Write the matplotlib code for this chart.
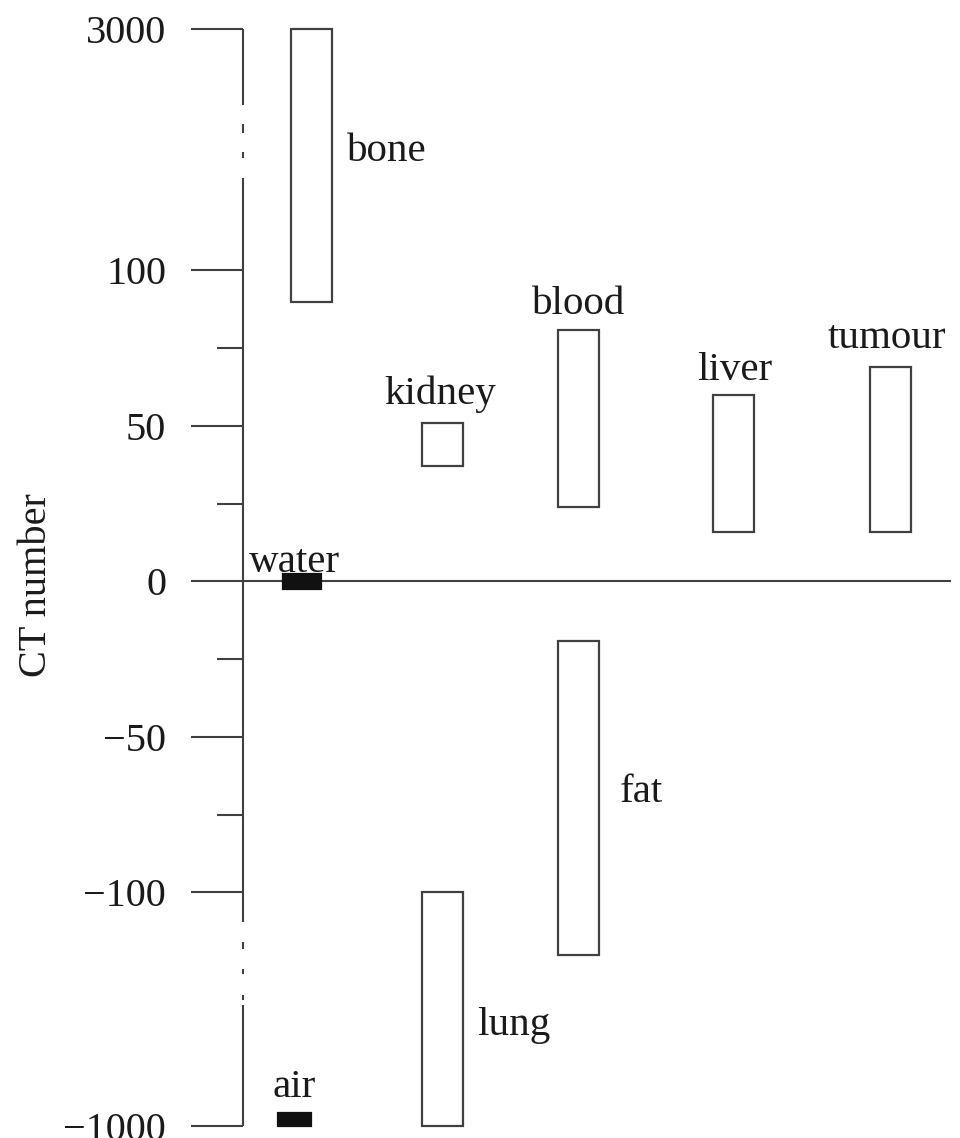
import numpy as np
import matplotlib
matplotlib.use('Agg')
import matplotlib.pyplot as plt

plt.rcParams['font.family'] = ['Liberation Serif', 'DejaVu Serif']

# CT number ranges
tissues = ['bone', 'kidney', 'blood', 'liver', 'tumour', 'fat', 'lung', 'water', 'air']
ct_low = [90, 37, 24, 16, 16, -120, -1000, -2.3, -1000]
ct_high = [3000, 51, 81, 60, 69, -19, -100, 2.3, -927]
filled = [False, False, False, False, False, False, False, True, True]

major_ticks = [-1000, -100, -50, 0, 50, 100, 3000]
major_labels = ['\u22121000', '\u2212100', '\u221250', '0', '50', '100', '3000']
minor_ticks = [-75, -25, 25, 75]

# layout: column centres / widths in axis units (1 unit = 100 px)
col_x = [0.685, 1.99, 3.355, 4.90, 6.47, 3.355, 1.99, 0.59, 0.515]
col_w = [0.41, 0.41, 0.41, 0.41, 0.41, 0.41, 0.41, 0.38, 0.33]
# label: (anchor at top/bottom, dx px, dy px, ha)
label_pos = {
    'bone': ('high', 35.5, -132, 'left'),
    'kidney': ('high', -2, 19, 'center'),
    'blood': ('high', 0, 16, 'center'),
    'liver': ('high', 1.5, 15, 'center'),
    'tumour': ('high', -3, 19, 'center'),
    'fat': ('high', 41.5, -161, 'left'),
    'lung': ('high', 35, -143, 'left'),
    'water': ('high', -7.5, 2, 'center'),
    'air': ('high', 0, 16, 'center'),
}

# broken axis: linear between the breaks, compressed outside
BRK_V = [-1000, -125, 140, 3000]
BRK_T = [-175.08, -125, 140, 177.65]
lo_slope = (BRK_T[1] - BRK_T[0]) / (BRK_V[1] - BRK_V[0])
hi_slope = (BRK_T[3] - BRK_T[2]) / (BRK_V[3] - BRK_V[2])


def fwd(v):
    v = np.asarray(v, float)
    return np.where(v < BRK_V[1], BRK_T[1] + (v - BRK_V[1]) * lo_slope,
                    np.where(v > BRK_V[2], BRK_T[2] + (v - BRK_V[2]) * hi_slope, v))


def inv(t):
    t = np.asarray(t, float)
    return np.where(t < BRK_T[1], BRK_V[1] + (t - BRK_T[1]) / lo_slope,
                    np.where(t > BRK_T[2], BRK_V[2] + (t - BRK_T[2]) / hi_slope, t))


W, H = 960, 1138
fig = plt.figure(figsize=(W / 100, H / 100), dpi=100)
ax_top, ax_bot, ax_left = 29, 1126, 243
ax = fig.add_axes([ax_left / W, 1 - ax_bot / H, (W - ax_left) / W, (ax_bot - ax_top) / H])
ax.set_yscale('function', functions=(fwd, inv))
ax.set_ylim(-1000, 3000)
ax.set_xlim(0, (W - ax_left) / 100)

line_col = '#404040'
for i, name in enumerate(tissues):
    ax.bar(col_x[i], ct_high[i] - ct_low[i], bottom=ct_low[i], width=col_w[i],
           facecolor='#111111' if filled[i] else 'white',
           edgecolor='#111111' if filled[i] else line_col,
           linewidth=1.6, clip_on=False, zorder=3)
    anchor, dx, dy, ha = label_pos[name]
    y0 = ct_high[i] if anchor == 'high' else ct_low[i]
    ax.annotate(name, xy=(col_x[i], y0), xytext=(dx, dy), textcoords='offset pixels',
                ha=ha, va='baseline', fontsize=29.5, color='#1a1a1a')

# zero line
ax.axhline(0, xmin=0, xmax=(950 - ax_left) / (W - ax_left), color=line_col, lw=1.5, zorder=2)

# y axis with break marks
for sp in ax.spines.values():
    sp.set_visible(False)
segs = [(29, 105), (124, 133), (152, 158), (178, 922), (942, 949), (969, 974), (995, 1000), (1005, 1126)]
for a, b in segs:
    fa = (ax_bot - a) / (ax_bot - ax_top)
    fb = (ax_bot - b) / (ax_bot - ax_top)
    ax.plot([0, 0], [fa, fb], transform=ax.transAxes, color=line_col, lw=1.5,
            clip_on=False, solid_capstyle='butt')

ax.set_yticks(major_ticks)
ax.set_yticklabels(major_labels)
ax.set_yticks(minor_ticks, minor=True)
ax.yaxis.set_minor_formatter(plt.NullFormatter())
ax.tick_params(axis='y', which='major', length=37.4, width=1.5, pad=18, color=line_col,
               labelsize=29, labelcolor='#1a1a1a')
ax.tick_params(axis='y', which='minor', length=18.7, width=1.5, color=line_col)
ax.tick_params(axis='x', bottom=False, labelbottom=False)

fig.text(37 / W, 1 - 585 / H, 'CT number', rotation=90, ha='center', va='center',
         fontsize=29, color='#1a1a1a')

fig.savefig('out.png', dpi=100)
